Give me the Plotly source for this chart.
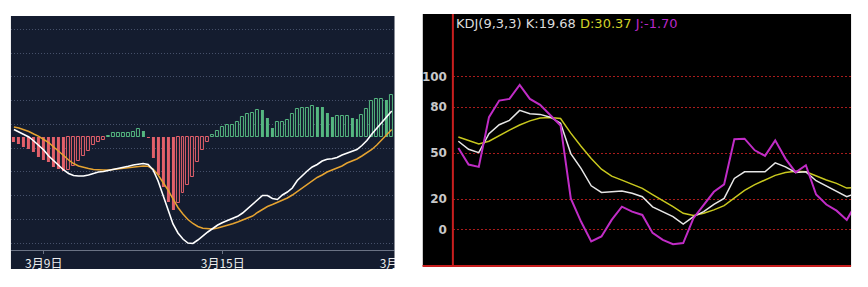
import plotly.graph_objects as go

W, H = 868, 287

# ---------------- MACD panel (left) ----------------
macd_idx = list(range(77))
macd_tickvals = [6, 42, 78]
macd_ticktext = ["3月9日", "3月15日", "3月21日"]

dif = [0.75, 0.5, 0.25, 0.0, -0.4, -0.85, -1.3, -1.9, -2.4, -2.85,
       -3.3, -3.65, -3.85, -3.9, -3.9, -3.8, -3.65, -3.5, -3.45, -3.35,
       -3.25, -3.18, -3.05, -2.93, -2.8, -2.7, -2.65, -2.75, -3.3, -4.4,
       -5.8, -7.3, -8.7, -9.6, -10.2, -10.6, -10.65, -10.3, -9.85, -9.5,
       -9.15, -8.8, -8.55, -8.35, -8.15, -7.93, -7.6, -7.15, -6.7, -6.2,
       -5.85, -5.85, -6.15, -6.25, -5.8, -5.5, -5.1, -4.35, -3.85, -3.4,
       -3.0, -2.75, -2.4, -2.23, -2.18, -2.05, -1.8, -1.6, -1.45, -1.25,
       -0.85, -0.35, 0.3, 0.9, 1.5, 2.05, 2.6]

dea = [1.0, 0.9, 0.72, 0.55, 0.3, 0.07, -0.25, -0.57, -1.0, -1.4,
       -1.85, -2.3, -2.65, -2.9, -3.05, -3.16, -3.24, -3.3, -3.3, -3.3,
       -3.25, -3.17, -3.1, -3.03, -2.98, -2.93, -2.9, -2.93, -3.2, -3.8,
       -4.5, -5.3, -6.2, -7.05, -7.7, -8.25, -8.65, -8.95, -9.13, -9.2,
       -9.2, -9.1, -8.97, -8.83, -8.68, -8.5, -8.3, -8.1, -7.9, -7.55,
       -7.25, -6.95, -6.75, -6.55, -6.38, -6.1, -5.8, -5.45, -5.1, -4.75,
       -4.35, -4.05, -3.8, -3.5, -3.3, -3.1, -2.9, -2.6, -2.4, -2.2,
       -1.9, -1.6, -1.25, -0.8, -0.3, 0.25, 0.75]

macd_hist = [-0.47, -0.7, -0.97, -1.23, -1.5, -1.97, -2.3, -2.5, -2.95, -3.2,
             -3.37, -3.3, -2.85, -2.35, -1.85, -1.4, -0.75, -0.47, -0.25, 0.1,
             0.37, 0.37, 0.37, 0.4, 0.5, 0.85, 0.63, -0.07, -2.1, -3.8,
             -5.0, -6.5, -7.3, -6.55, -5.63, -4.8, -3.97, -2.47, -1.3, -0.47,
             0.25, 0.6, 1.05, 1.2, 1.25, 1.55, 2.05, 2.3, 2.45, 2.72,
             2.68, 1.87, 0.9, 1.53, 1.55, 1.7, 2.27, 2.8, 2.93, 2.95,
             3.1, 3.03, 2.97, 2.37, 2.03, 2.07, 2.09, 2.1, 1.87, 1.85,
             2.2, 2.8, 3.6, 3.77, 3.78, 3.7, 4.2]

# ---------------- KDJ panel (right) ----------------
kdj_idx = list(range(40))
kdj_k = [57.7, 52.5, 50.3, 62.6, 68.5, 71.3, 77.8, 75.6, 75.2, 73.4,
         69.5, 49.7, 40.0, 28.7, 24.4, 24.8, 25.3, 23.8, 21.6, 15.0,
         11.9, 8.6, 3.7, 8.6, 11.9, 16.6, 20.5, 33.5, 37.8, 37.8,
         37.8, 43.6, 41.0, 37.4, 37.8, 32.0, 28.5, 25.5, 21.6, 24.0]
kdj_d = [60.5, 58.3, 56.0, 57.7, 61.5, 65.0, 68.3, 71.0, 72.8, 73.2,
         72.5, 63.0, 54.5, 46.5, 39.5, 35.0, 32.4, 29.8, 27.0, 23.0,
         19.2, 15.1, 10.8, 9.3, 10.8, 13.0, 15.8, 20.5, 25.7, 29.5,
         32.3, 35.5, 37.3, 38.2, 37.8, 35.0, 32.5, 30.3, 27.2, 27.5]
kdj_j = [53.3, 42.5, 41.0, 73.4, 84.2, 85.3, 94.4, 85.3, 81.4, 75.0,
         68.0, 20.5, 5.4, -7.6, -4.3, 6.5, 15.1, 11.9, 9.7, -2.0,
         -6.5, -9.3, -8.6, 7.6, 16.2, 24.8, 29.6, 59.0, 59.4, 51.8,
         48.2, 58.3, 46.4, 37.4, 42.1, 23.0, 16.5, 12.5, 6.5, 18.0]
kdj_ticks = [0, 20, 50, 80, 100]
kdj_title = "KDJ(9,3,3)"
kdj_values = {"K": "19.68", "D": "30.37", "J": "-1.70"}

# ---------------- styling ----------------
NAVY = "#141c2f"
RED = "#e2606a"
GREEN = "#55b780"

def px_x(p):
    return p / W

def px_y(p):
    return 1 - p / H

bar_fill, bar_line_col, bar_line_w = [], [], []
for i, v in enumerate(macd_hist):
    col = RED if v < 0 else GREEN
    falling = True if i == 0 else v < macd_hist[i - 1]
    bar_fill.append(col if falling else NAVY)
    bar_line_col.append(col)
    bar_line_w.append(0 if falling else 1)

fig = go.Figure()

fig.add_trace(go.Bar(
    x=macd_idx, y=macd_hist, width=0.6,
    marker=dict(color=bar_fill, line=dict(color=bar_line_col, width=bar_line_w)),
    xaxis="x", yaxis="y", showlegend=False, hoverinfo="skip"))
fig.add_trace(go.Scatter(
    x=macd_idx, y=dea, mode="lines", line=dict(color="#e5a331", width=1.5),
    xaxis="x", yaxis="y", showlegend=False))
fig.add_trace(go.Scatter(
    x=macd_idx, y=dif, mode="lines", line=dict(color="#ffffff", width=1.6),
    xaxis="x", yaxis="y", showlegend=False))

fig.add_trace(go.Scatter(
    x=kdj_idx, y=kdj_d, mode="lines", line=dict(color="#c8c81e", width=1.5),
    xaxis="x2", yaxis="y2", showlegend=False))
fig.add_trace(go.Scatter(
    x=kdj_idx, y=kdj_k, mode="lines", line=dict(color="#e6e6e6", width=1.5),
    xaxis="x2", yaxis="y2", showlegend=False))
fig.add_trace(go.Scatter(
    x=kdj_idx, y=kdj_j, mode="lines", line=dict(color="#c02cc6", width=2),
    xaxis="x2", yaxis="y2", showlegend=False))

shapes = [
    # left panel background
    dict(type="rect", xref="paper", yref="paper", layer="below",
         x0=px_x(11), x1=px_x(397), y0=px_y(269), y1=px_y(16),
         fillcolor=NAVY, line=dict(width=0)),
    # right panel background
    dict(type="rect", xref="paper", yref="paper", layer="below",
         x0=px_x(425), x1=px_x(856), y0=px_y(266), y1=px_y(14),
         fillcolor="#000000", line=dict(width=0)),
    # white gap between panels (clips the left panel)
    dict(type="rect", xref="paper", yref="paper", layer="above",
         x0=px_x(397), x1=px_x(425), y0=0, y1=1,
         fillcolor="#ffffff", line=dict(width=0)),
    # red frame lines of KDJ panel
    dict(type="line", xref="paper", yref="paper", layer="above",
         x0=px_x(455.5), x1=px_x(455.5), y0=px_y(267), y1=px_y(14),
         line=dict(color="#c81e1e", width=2)),
    dict(type="line", xref="paper", yref="paper", layer="above",
         x0=px_x(425), x1=px_x(856), y0=px_y(266), y1=px_y(266),
         line=dict(color="#c81e1e", width=2)),
]

header = (f"<span style='color:#dcdcdc'>{kdj_title} K:{kdj_values['K']}</span> "
          f"<span style='color:#d2d228'>D:{kdj_values['D']}</span> "
          f"<span style='color:#b828c8'>J:{kdj_values['J']}</span>")

fig.update_layout(
    width=W, height=H, autosize=False,
    margin=dict(l=0, r=0, t=0, b=0, pad=0),
    paper_bgcolor="#ffffff", plot_bgcolor="rgba(0,0,0,0)",
    bargap=0, shapes=shapes,
    xaxis=dict(domain=[px_x(11), px_x(421)], range=[-0.6, 81.4],
               tickvals=macd_tickvals, ticktext=macd_ticktext,
               ticks="outside", ticklen=3, tickcolor="#6b7385",
               showline=True, linecolor="#6b7385", linewidth=1,
               showgrid=False, zeroline=False,
               tickfont=dict(family="Noto Sans CJK SC", size=12, color="#eeeeee")),
    yaxis=dict(domain=[px_y(250), px_y(16)], range=[-11.3, 12.1],
               tick0=-10.63, dtick=2.378, showticklabels=False,
               showgrid=True, gridcolor="#46506a", griddash="1px,2px", gridwidth=1,
               zeroline=False, showline=False),
    xaxis2=dict(domain=[px_x(456), px_x(856)], range=[-0.486, 38.42],
                showticklabels=False, showgrid=False, zeroline=False, showline=False),
    yaxis2=dict(domain=[px_y(265), px_y(14)], range=[-22.9, 140.6],
                anchor="x2", tickvals=kdj_ticks,
                ticks="outside", ticklen=3, tickcolor="rgba(0,0,0,0)",
                showgrid=True, gridcolor="#a81c1c", griddash="2px,2px", gridwidth=1,
                zeroline=False, showline=False,
                tickfont=dict(family="DejaVu Sans", size=12, color="#c8c8c8", weight="bold")),
    annotations=[dict(xref="paper", yref="paper", x=px_x(457), y=px_y(23),
                      xanchor="left", yanchor="middle", showarrow=False,
                      text=header, font=dict(family="DejaVu Sans", size=13))],
)

fig.write_html("out.html")
